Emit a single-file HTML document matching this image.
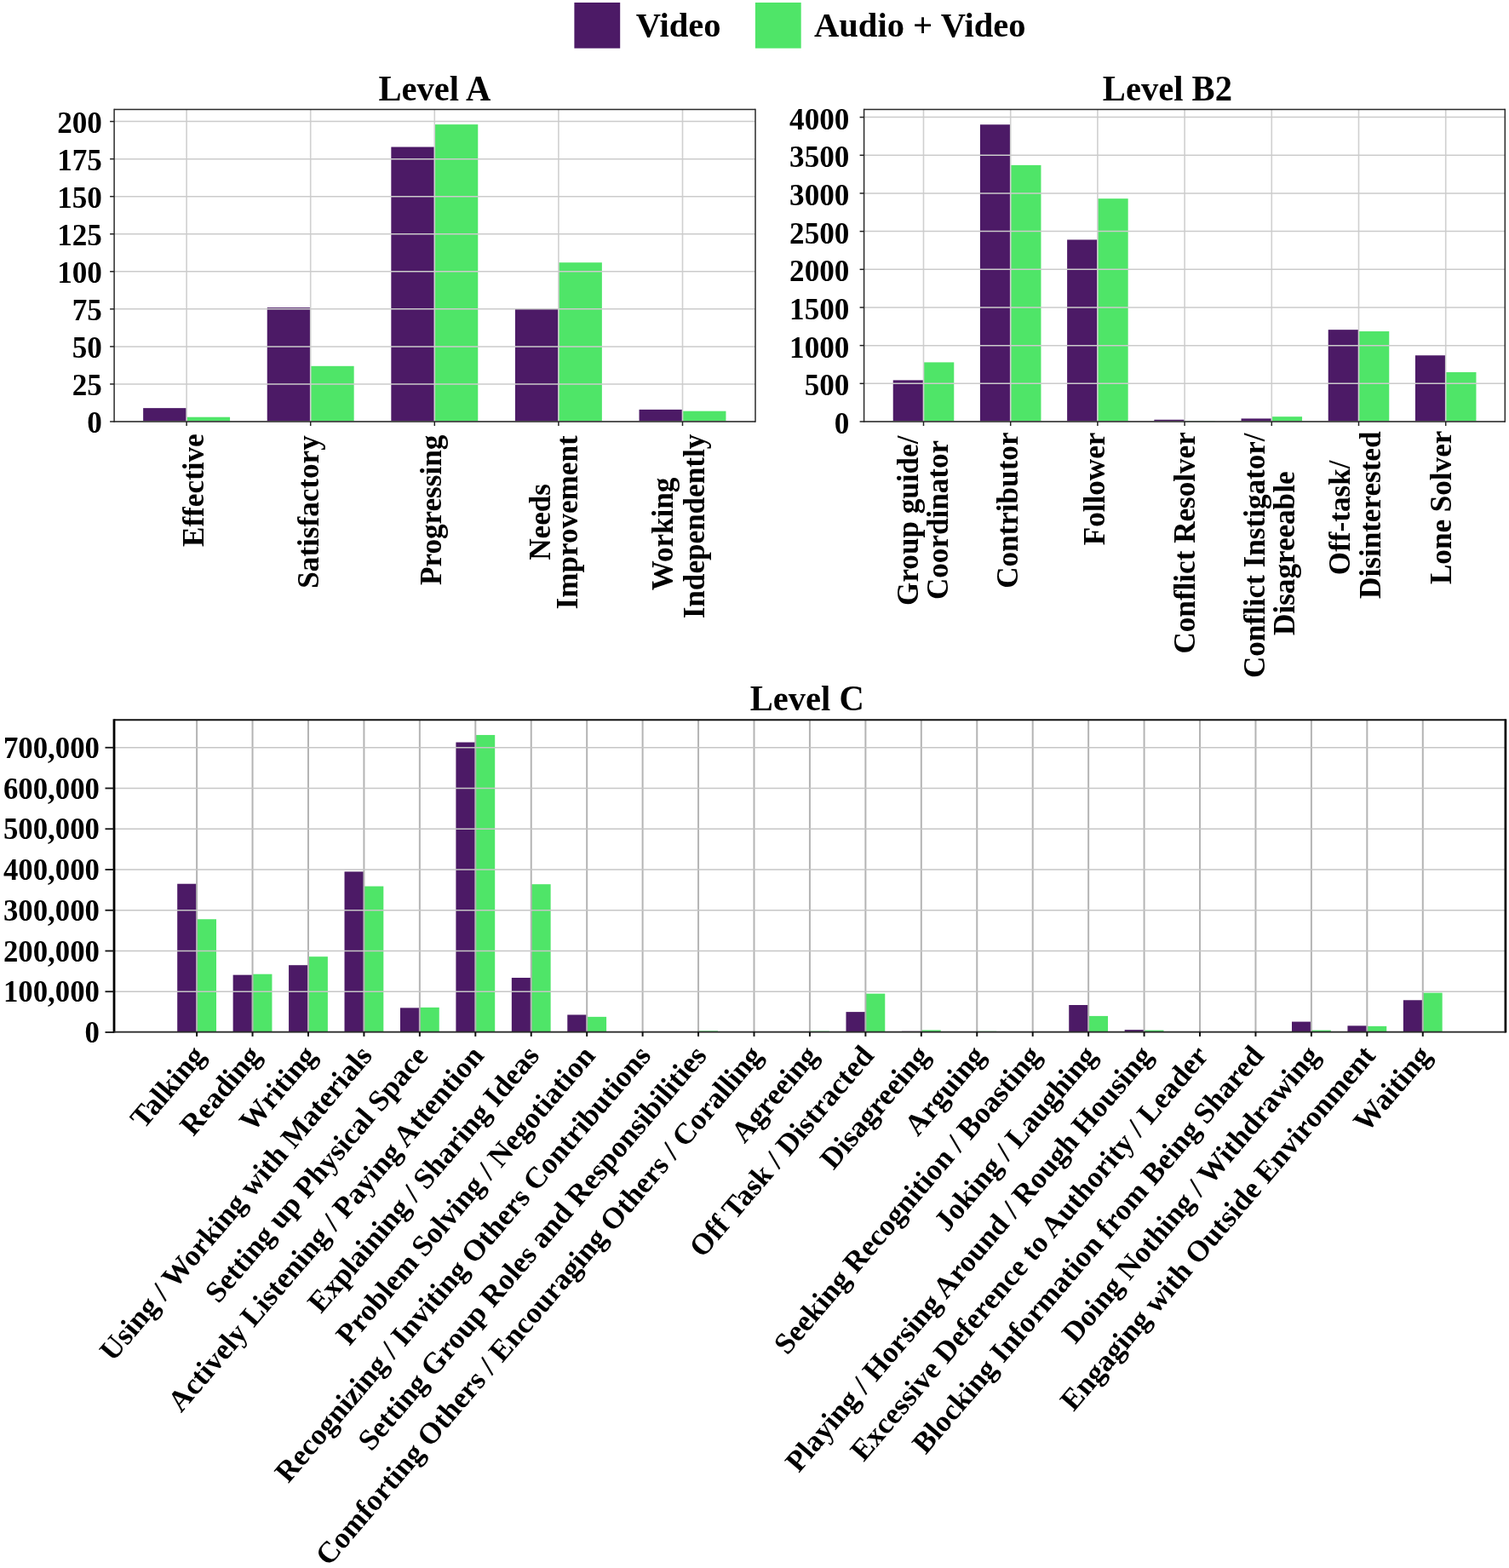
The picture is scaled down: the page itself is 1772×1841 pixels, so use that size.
<!DOCTYPE html>
<html lang="en">
<head>
<meta charset="utf-8">
<title>Level A, Level B2, Level C - Video vs Audio + Video</title>
<style>
html,body{margin:0;padding:0;background:#fff;}
body{width:1772px;height:1841px;overflow:hidden;}
svg{display:block;}
svg text{font-family:'Liberation Serif','Times New Roman',Times,serif;font-weight:bold;fill:#000;}
</style>
</head>
<body>
<svg width="1772" height="1841" viewBox="0 0 1772 1841">
<rect x="0" y="0" width="1772" height="1841" fill="#ffffff"/>
<rect x="674.4" y="3" width="53.8" height="53.7" fill="#4c1a66"/>
<rect x="886.9" y="3" width="53.8" height="53.7" fill="#4fe568"/>
<text font-size="40.6" transform="translate(746.67 43.3)">Video</text>
<text font-size="40.6" transform="translate(955.97 43.3)">Audio + Video</text>
<rect x="168.14" y="479.14" width="50.96" height="15.86" fill="#4c1a66"/>
<rect x="219.1" y="489.71" width="50.96" height="5.29" fill="#4fe568"/>
<rect x="313.74" y="361.09" width="50.96" height="133.91" fill="#4c1a66"/>
<rect x="364.7" y="429.81" width="50.96" height="65.19" fill="#4fe568"/>
<rect x="459.34" y="172.55" width="50.96" height="322.45" fill="#4c1a66"/>
<rect x="510.3" y="146.12" width="50.96" height="348.88" fill="#4fe568"/>
<rect x="604.94" y="362.85" width="50.96" height="132.15" fill="#4c1a66"/>
<rect x="655.9" y="308.23" width="50.96" height="186.77" fill="#4fe568"/>
<rect x="750.54" y="480.9" width="50.96" height="14.1" fill="#4c1a66"/>
<rect x="801.5" y="482.67" width="50.96" height="12.33" fill="#4fe568"/>
<line x1="219.1" y1="128.45" x2="219.1" y2="495" stroke="#d0d0d0" stroke-width="1.6"/>
<line x1="364.7" y1="128.45" x2="364.7" y2="495" stroke="#d0d0d0" stroke-width="1.6"/>
<line x1="510.3" y1="128.45" x2="510.3" y2="495" stroke="#d0d0d0" stroke-width="1.6"/>
<line x1="655.9" y1="128.45" x2="655.9" y2="495" stroke="#d0d0d0" stroke-width="1.6"/>
<line x1="801.5" y1="128.45" x2="801.5" y2="495" stroke="#d0d0d0" stroke-width="1.6"/>
<line x1="134.1" y1="495" x2="887" y2="495" stroke="#cbcbcb" stroke-width="1.5"/>
<line x1="134.1" y1="450.95" x2="887" y2="450.95" stroke="#cbcbcb" stroke-width="1.5"/>
<line x1="134.1" y1="406.9" x2="887" y2="406.9" stroke="#cbcbcb" stroke-width="1.5"/>
<line x1="134.1" y1="362.85" x2="887" y2="362.85" stroke="#cbcbcb" stroke-width="1.5"/>
<line x1="134.1" y1="318.8" x2="887" y2="318.8" stroke="#cbcbcb" stroke-width="1.5"/>
<line x1="134.1" y1="274.75" x2="887" y2="274.75" stroke="#cbcbcb" stroke-width="1.5"/>
<line x1="134.1" y1="230.7" x2="887" y2="230.7" stroke="#cbcbcb" stroke-width="1.5"/>
<line x1="134.1" y1="186.65" x2="887" y2="186.65" stroke="#cbcbcb" stroke-width="1.5"/>
<line x1="134.1" y1="142.6" x2="887" y2="142.6" stroke="#cbcbcb" stroke-width="1.5"/>
<line x1="134.1" y1="127.7" x2="134.1" y2="495.75" stroke="#2a2a2a" stroke-width="1.5"/>
<line x1="887" y1="127.7" x2="887" y2="495.75" stroke="#2a2a2a" stroke-width="1.5"/>
<line x1="134.1" y1="128.45" x2="887" y2="128.45" stroke="#2a2a2a" stroke-width="1.5"/>
<line x1="134.1" y1="495" x2="887" y2="495" stroke="#2a2a2a" stroke-width="1.5"/>
<line x1="219.1" y1="495" x2="219.1" y2="500" stroke="#222" stroke-width="1.5"/>
<line x1="364.7" y1="495" x2="364.7" y2="500" stroke="#222" stroke-width="1.5"/>
<line x1="510.3" y1="495" x2="510.3" y2="500" stroke="#222" stroke-width="1.5"/>
<line x1="655.9" y1="495" x2="655.9" y2="500" stroke="#222" stroke-width="1.5"/>
<line x1="801.5" y1="495" x2="801.5" y2="500" stroke="#222" stroke-width="1.5"/>
<line x1="129.1" y1="495" x2="134.1" y2="495" stroke="#222" stroke-width="1.5"/>
<text font-size="36.4" text-anchor="end" transform="translate(119.8 508.3) scale(0.965 1)">0</text>
<line x1="129.1" y1="450.95" x2="134.1" y2="450.95" stroke="#222" stroke-width="1.5"/>
<text font-size="36.4" text-anchor="end" transform="translate(119.8 464.25) scale(0.965 1)">25</text>
<line x1="129.1" y1="406.9" x2="134.1" y2="406.9" stroke="#222" stroke-width="1.5"/>
<text font-size="36.4" text-anchor="end" transform="translate(119.8 420.2) scale(0.965 1)">50</text>
<line x1="129.1" y1="362.85" x2="134.1" y2="362.85" stroke="#222" stroke-width="1.5"/>
<text font-size="36.4" text-anchor="end" transform="translate(119.8 376.15) scale(0.965 1)">75</text>
<line x1="129.1" y1="318.8" x2="134.1" y2="318.8" stroke="#222" stroke-width="1.5"/>
<text font-size="36.4" text-anchor="end" transform="translate(119.8 332.1) scale(0.965 1)">100</text>
<line x1="129.1" y1="274.75" x2="134.1" y2="274.75" stroke="#222" stroke-width="1.5"/>
<text font-size="36.4" text-anchor="end" transform="translate(119.8 288.05) scale(0.965 1)">125</text>
<line x1="129.1" y1="230.7" x2="134.1" y2="230.7" stroke="#222" stroke-width="1.5"/>
<text font-size="36.4" text-anchor="end" transform="translate(119.8 244) scale(0.965 1)">150</text>
<line x1="129.1" y1="186.65" x2="134.1" y2="186.65" stroke="#222" stroke-width="1.5"/>
<text font-size="36.4" text-anchor="end" transform="translate(119.8 199.95) scale(0.965 1)">175</text>
<line x1="129.1" y1="142.6" x2="134.1" y2="142.6" stroke="#222" stroke-width="1.5"/>
<text font-size="36.4" text-anchor="end" transform="translate(119.8 155.9) scale(0.965 1)">200</text>
<text font-size="41.4" text-anchor="middle" transform="translate(510.38 118) scale(0.98 1)">Level A</text>
<rect x="1048.73" y="446.39" width="35.77" height="48.61" fill="#4c1a66"/>
<rect x="1084.5" y="425.4" width="35.77" height="69.6" fill="#4fe568"/>
<rect x="1150.93" y="146.27" width="35.77" height="348.73" fill="#4c1a66"/>
<rect x="1186.7" y="193.89" width="35.77" height="301.11" fill="#4fe568"/>
<rect x="1253.13" y="281.45" width="35.77" height="213.55" fill="#4c1a66"/>
<rect x="1288.9" y="233.2" width="35.77" height="261.8" fill="#4fe568"/>
<rect x="1355.33" y="492.77" width="35.77" height="2.23" fill="#4c1a66"/>
<rect x="1391.1" y="494.11" width="35.77" height="0.89" fill="#4fe568"/>
<rect x="1457.53" y="491.43" width="35.77" height="3.57" fill="#4c1a66"/>
<rect x="1493.3" y="489.19" width="35.77" height="5.81" fill="#4fe568"/>
<rect x="1559.73" y="387.15" width="35.77" height="107.85" fill="#4c1a66"/>
<rect x="1595.5" y="389.03" width="35.77" height="105.97" fill="#4fe568"/>
<rect x="1661.93" y="417.27" width="35.77" height="77.73" fill="#4c1a66"/>
<rect x="1697.7" y="437.01" width="35.77" height="57.99" fill="#4fe568"/>
<line x1="1084.5" y1="128.45" x2="1084.5" y2="495" stroke="#d0d0d0" stroke-width="1.6"/>
<line x1="1186.7" y1="128.45" x2="1186.7" y2="495" stroke="#d0d0d0" stroke-width="1.6"/>
<line x1="1288.9" y1="128.45" x2="1288.9" y2="495" stroke="#d0d0d0" stroke-width="1.6"/>
<line x1="1391.1" y1="128.45" x2="1391.1" y2="495" stroke="#d0d0d0" stroke-width="1.6"/>
<line x1="1493.3" y1="128.45" x2="1493.3" y2="495" stroke="#d0d0d0" stroke-width="1.6"/>
<line x1="1595.5" y1="128.45" x2="1595.5" y2="495" stroke="#d0d0d0" stroke-width="1.6"/>
<line x1="1697.7" y1="128.45" x2="1697.7" y2="495" stroke="#d0d0d0" stroke-width="1.6"/>
<line x1="1014.6" y1="495" x2="1767.3" y2="495" stroke="#cbcbcb" stroke-width="1.5"/>
<line x1="1014.6" y1="450.32" x2="1767.3" y2="450.32" stroke="#cbcbcb" stroke-width="1.5"/>
<line x1="1014.6" y1="405.65" x2="1767.3" y2="405.65" stroke="#cbcbcb" stroke-width="1.5"/>
<line x1="1014.6" y1="360.98" x2="1767.3" y2="360.98" stroke="#cbcbcb" stroke-width="1.5"/>
<line x1="1014.6" y1="316.3" x2="1767.3" y2="316.3" stroke="#cbcbcb" stroke-width="1.5"/>
<line x1="1014.6" y1="271.62" x2="1767.3" y2="271.62" stroke="#cbcbcb" stroke-width="1.5"/>
<line x1="1014.6" y1="226.95" x2="1767.3" y2="226.95" stroke="#cbcbcb" stroke-width="1.5"/>
<line x1="1014.6" y1="182.27" x2="1767.3" y2="182.27" stroke="#cbcbcb" stroke-width="1.5"/>
<line x1="1014.6" y1="137.6" x2="1767.3" y2="137.6" stroke="#cbcbcb" stroke-width="1.5"/>
<line x1="1014.6" y1="127.7" x2="1014.6" y2="495.75" stroke="#2a2a2a" stroke-width="1.5"/>
<line x1="1767.3" y1="127.7" x2="1767.3" y2="495.75" stroke="#2a2a2a" stroke-width="1.5"/>
<line x1="1014.6" y1="128.45" x2="1767.3" y2="128.45" stroke="#2a2a2a" stroke-width="1.5"/>
<line x1="1014.6" y1="495" x2="1767.3" y2="495" stroke="#2a2a2a" stroke-width="1.5"/>
<line x1="1084.5" y1="495" x2="1084.5" y2="500" stroke="#222" stroke-width="1.5"/>
<line x1="1186.7" y1="495" x2="1186.7" y2="500" stroke="#222" stroke-width="1.5"/>
<line x1="1288.9" y1="495" x2="1288.9" y2="500" stroke="#222" stroke-width="1.5"/>
<line x1="1391.1" y1="495" x2="1391.1" y2="500" stroke="#222" stroke-width="1.5"/>
<line x1="1493.3" y1="495" x2="1493.3" y2="500" stroke="#222" stroke-width="1.5"/>
<line x1="1595.5" y1="495" x2="1595.5" y2="500" stroke="#222" stroke-width="1.5"/>
<line x1="1697.7" y1="495" x2="1697.7" y2="500" stroke="#222" stroke-width="1.5"/>
<line x1="1009.6" y1="495" x2="1014.6" y2="495" stroke="#222" stroke-width="1.5"/>
<text font-size="36.4" text-anchor="end" transform="translate(997.3 509.1) scale(0.965 1)">0</text>
<line x1="1009.6" y1="450.32" x2="1014.6" y2="450.32" stroke="#222" stroke-width="1.5"/>
<text font-size="36.4" text-anchor="end" transform="translate(997.3 464.43) scale(0.965 1)">500</text>
<line x1="1009.6" y1="405.65" x2="1014.6" y2="405.65" stroke="#222" stroke-width="1.5"/>
<text font-size="36.4" text-anchor="end" transform="translate(997.3 419.75) scale(0.965 1)">1000</text>
<line x1="1009.6" y1="360.98" x2="1014.6" y2="360.98" stroke="#222" stroke-width="1.5"/>
<text font-size="36.4" text-anchor="end" transform="translate(997.3 375.08) scale(0.965 1)">1500</text>
<line x1="1009.6" y1="316.3" x2="1014.6" y2="316.3" stroke="#222" stroke-width="1.5"/>
<text font-size="36.4" text-anchor="end" transform="translate(997.3 330.4) scale(0.965 1)">2000</text>
<line x1="1009.6" y1="271.62" x2="1014.6" y2="271.62" stroke="#222" stroke-width="1.5"/>
<text font-size="36.4" text-anchor="end" transform="translate(997.3 285.73) scale(0.965 1)">2500</text>
<line x1="1009.6" y1="226.95" x2="1014.6" y2="226.95" stroke="#222" stroke-width="1.5"/>
<text font-size="36.4" text-anchor="end" transform="translate(997.3 241.05) scale(0.965 1)">3000</text>
<line x1="1009.6" y1="182.27" x2="1014.6" y2="182.27" stroke="#222" stroke-width="1.5"/>
<text font-size="36.4" text-anchor="end" transform="translate(997.3 196.37) scale(0.965 1)">3500</text>
<line x1="1009.6" y1="137.6" x2="1014.6" y2="137.6" stroke="#222" stroke-width="1.5"/>
<text font-size="36.4" text-anchor="end" transform="translate(997.3 151.7) scale(0.965 1)">4000</text>
<text font-size="41.4" text-anchor="middle" transform="translate(1370.9 117.8) scale(0.98 1)">Level B2</text>
<rect x="208.2" y="1037.71" width="22.9" height="174.29" fill="#4c1a66"/>
<rect x="231.1" y="1079.26" width="22.9" height="132.74" fill="#4fe568"/>
<rect x="273.64" y="1144.67" width="22.9" height="67.33" fill="#4c1a66"/>
<rect x="296.54" y="1143.72" width="22.9" height="68.28" fill="#4fe568"/>
<rect x="339.08" y="1133.21" width="22.9" height="78.79" fill="#4c1a66"/>
<rect x="361.98" y="1123.18" width="22.9" height="88.82" fill="#4fe568"/>
<rect x="404.52" y="1023.39" width="22.9" height="188.61" fill="#4c1a66"/>
<rect x="427.42" y="1040.58" width="22.9" height="171.42" fill="#4fe568"/>
<rect x="469.96" y="1183.35" width="22.9" height="28.65" fill="#4c1a66"/>
<rect x="492.86" y="1182.87" width="22.9" height="29.13" fill="#4fe568"/>
<rect x="535.4" y="871.54" width="22.9" height="340.46" fill="#4c1a66"/>
<rect x="558.3" y="862.95" width="22.9" height="349.05" fill="#4fe568"/>
<rect x="600.84" y="1148.02" width="22.9" height="63.98" fill="#4c1a66"/>
<rect x="623.74" y="1038.19" width="22.9" height="173.81" fill="#4fe568"/>
<rect x="666.28" y="1191.47" width="22.9" height="20.53" fill="#4c1a66"/>
<rect x="689.18" y="1193.86" width="22.9" height="18.14" fill="#4fe568"/>
<rect x="731.72" y="1211.52" width="22.9" height="0.48" fill="#4c1a66"/>
<rect x="754.62" y="1211.62" width="22.9" height="0.38" fill="#4fe568"/>
<rect x="797.16" y="1211.86" width="22.9" height="0.14" fill="#4c1a66"/>
<rect x="820.06" y="1210.42" width="22.9" height="1.58" fill="#4fe568"/>
<rect x="862.6" y="1211.86" width="22.9" height="0.14" fill="#4c1a66"/>
<rect x="885.5" y="1211.62" width="22.9" height="0.38" fill="#4fe568"/>
<rect x="928.04" y="1210.95" width="22.9" height="1.05" fill="#4c1a66"/>
<rect x="950.94" y="1210.66" width="22.9" height="1.34" fill="#4fe568"/>
<rect x="993.48" y="1188.12" width="22.9" height="23.88" fill="#4c1a66"/>
<rect x="1016.38" y="1166.64" width="22.9" height="45.36" fill="#4fe568"/>
<rect x="1058.92" y="1210.81" width="22.9" height="1.19" fill="#4c1a66"/>
<rect x="1081.82" y="1209.47" width="22.9" height="2.53" fill="#4fe568"/>
<rect x="1124.36" y="1211.28" width="22.9" height="0.72" fill="#4c1a66"/>
<rect x="1147.26" y="1210.81" width="22.9" height="1.19" fill="#4fe568"/>
<rect x="1189.8" y="1211.86" width="22.9" height="0.14" fill="#4c1a66"/>
<rect x="1212.7" y="1211.86" width="22.9" height="0.14" fill="#4fe568"/>
<rect x="1255.24" y="1180.01" width="22.9" height="31.99" fill="#4c1a66"/>
<rect x="1278.14" y="1192.9" width="22.9" height="19.1" fill="#4fe568"/>
<rect x="1320.68" y="1209.13" width="22.9" height="2.87" fill="#4c1a66"/>
<rect x="1343.58" y="1209.61" width="22.9" height="2.39" fill="#4fe568"/>
<rect x="1386.12" y="1211.86" width="22.9" height="0.14" fill="#4c1a66"/>
<rect x="1409.02" y="1211.86" width="22.9" height="0.14" fill="#4fe568"/>
<rect x="1451.56" y="1211.86" width="22.9" height="0.14" fill="#4c1a66"/>
<rect x="1474.46" y="1211.28" width="22.9" height="0.72" fill="#4fe568"/>
<rect x="1517" y="1199.59" width="22.9" height="12.41" fill="#4c1a66"/>
<rect x="1539.9" y="1209.61" width="22.9" height="2.39" fill="#4fe568"/>
<rect x="1582.44" y="1204.36" width="22.9" height="7.64" fill="#4c1a66"/>
<rect x="1605.34" y="1204.84" width="22.9" height="7.16" fill="#4fe568"/>
<rect x="1647.88" y="1174.28" width="22.9" height="37.72" fill="#4c1a66"/>
<rect x="1670.78" y="1165.68" width="22.9" height="46.32" fill="#4fe568"/>
<line x1="231.1" y1="845.3" x2="231.1" y2="1211.6" stroke="#b4b4b4" stroke-width="2"/>
<line x1="296.54" y1="845.3" x2="296.54" y2="1211.6" stroke="#b4b4b4" stroke-width="2"/>
<line x1="361.98" y1="845.3" x2="361.98" y2="1211.6" stroke="#b4b4b4" stroke-width="2"/>
<line x1="427.42" y1="845.3" x2="427.42" y2="1211.6" stroke="#b4b4b4" stroke-width="2"/>
<line x1="492.86" y1="845.3" x2="492.86" y2="1211.6" stroke="#b4b4b4" stroke-width="2"/>
<line x1="558.3" y1="845.3" x2="558.3" y2="1211.6" stroke="#b4b4b4" stroke-width="2"/>
<line x1="623.74" y1="845.3" x2="623.74" y2="1211.6" stroke="#b4b4b4" stroke-width="2"/>
<line x1="689.18" y1="845.3" x2="689.18" y2="1211.6" stroke="#b4b4b4" stroke-width="2"/>
<line x1="754.62" y1="845.3" x2="754.62" y2="1211.6" stroke="#b4b4b4" stroke-width="2"/>
<line x1="820.06" y1="845.3" x2="820.06" y2="1211.6" stroke="#b4b4b4" stroke-width="2"/>
<line x1="885.5" y1="845.3" x2="885.5" y2="1211.6" stroke="#b4b4b4" stroke-width="2"/>
<line x1="950.94" y1="845.3" x2="950.94" y2="1211.6" stroke="#b4b4b4" stroke-width="2"/>
<line x1="1016.38" y1="845.3" x2="1016.38" y2="1211.6" stroke="#b4b4b4" stroke-width="2"/>
<line x1="1081.82" y1="845.3" x2="1081.82" y2="1211.6" stroke="#b4b4b4" stroke-width="2"/>
<line x1="1147.26" y1="845.3" x2="1147.26" y2="1211.6" stroke="#b4b4b4" stroke-width="2"/>
<line x1="1212.7" y1="845.3" x2="1212.7" y2="1211.6" stroke="#b4b4b4" stroke-width="2"/>
<line x1="1278.14" y1="845.3" x2="1278.14" y2="1211.6" stroke="#b4b4b4" stroke-width="2"/>
<line x1="1343.58" y1="845.3" x2="1343.58" y2="1211.6" stroke="#b4b4b4" stroke-width="2"/>
<line x1="1409.02" y1="845.3" x2="1409.02" y2="1211.6" stroke="#b4b4b4" stroke-width="2"/>
<line x1="1474.46" y1="845.3" x2="1474.46" y2="1211.6" stroke="#b4b4b4" stroke-width="2"/>
<line x1="1539.9" y1="845.3" x2="1539.9" y2="1211.6" stroke="#b4b4b4" stroke-width="2"/>
<line x1="1605.34" y1="845.3" x2="1605.34" y2="1211.6" stroke="#b4b4b4" stroke-width="2"/>
<line x1="1670.78" y1="845.3" x2="1670.78" y2="1211.6" stroke="#b4b4b4" stroke-width="2"/>
<line x1="134" y1="1212" x2="1767.9" y2="1212" stroke="#c6c6c6" stroke-width="1.4"/>
<line x1="134" y1="1164.25" x2="1767.9" y2="1164.25" stroke="#c6c6c6" stroke-width="1.4"/>
<line x1="134" y1="1116.5" x2="1767.9" y2="1116.5" stroke="#c6c6c6" stroke-width="1.4"/>
<line x1="134" y1="1068.75" x2="1767.9" y2="1068.75" stroke="#c6c6c6" stroke-width="1.4"/>
<line x1="134" y1="1021" x2="1767.9" y2="1021" stroke="#c6c6c6" stroke-width="1.4"/>
<line x1="134" y1="973.25" x2="1767.9" y2="973.25" stroke="#c6c6c6" stroke-width="1.4"/>
<line x1="134" y1="925.5" x2="1767.9" y2="925.5" stroke="#c6c6c6" stroke-width="1.4"/>
<line x1="134" y1="877.75" x2="1767.9" y2="877.75" stroke="#c6c6c6" stroke-width="1.4"/>
<line x1="134" y1="844.3" x2="134" y2="1212.55" stroke="#000" stroke-width="2.8"/>
<line x1="1767.9" y1="844.3" x2="1767.9" y2="1212.55" stroke="#000" stroke-width="2.7"/>
<line x1="134" y1="845.3" x2="1767.9" y2="845.3" stroke="#111" stroke-width="2"/>
<line x1="134" y1="1211.6" x2="1767.9" y2="1211.6" stroke="#2a2a2a" stroke-width="1.9"/>
<line x1="231.1" y1="1211.6" x2="231.1" y2="1216.9" stroke="#111" stroke-width="2"/>
<line x1="296.54" y1="1211.6" x2="296.54" y2="1216.9" stroke="#111" stroke-width="2"/>
<line x1="361.98" y1="1211.6" x2="361.98" y2="1216.9" stroke="#111" stroke-width="2"/>
<line x1="427.42" y1="1211.6" x2="427.42" y2="1216.9" stroke="#111" stroke-width="2"/>
<line x1="492.86" y1="1211.6" x2="492.86" y2="1216.9" stroke="#111" stroke-width="2"/>
<line x1="558.3" y1="1211.6" x2="558.3" y2="1216.9" stroke="#111" stroke-width="2"/>
<line x1="623.74" y1="1211.6" x2="623.74" y2="1216.9" stroke="#111" stroke-width="2"/>
<line x1="689.18" y1="1211.6" x2="689.18" y2="1216.9" stroke="#111" stroke-width="2"/>
<line x1="754.62" y1="1211.6" x2="754.62" y2="1216.9" stroke="#111" stroke-width="2"/>
<line x1="820.06" y1="1211.6" x2="820.06" y2="1216.9" stroke="#111" stroke-width="2"/>
<line x1="885.5" y1="1211.6" x2="885.5" y2="1216.9" stroke="#111" stroke-width="2"/>
<line x1="950.94" y1="1211.6" x2="950.94" y2="1216.9" stroke="#111" stroke-width="2"/>
<line x1="1016.38" y1="1211.6" x2="1016.38" y2="1216.9" stroke="#111" stroke-width="2"/>
<line x1="1081.82" y1="1211.6" x2="1081.82" y2="1216.9" stroke="#111" stroke-width="2"/>
<line x1="1147.26" y1="1211.6" x2="1147.26" y2="1216.9" stroke="#111" stroke-width="2"/>
<line x1="1212.7" y1="1211.6" x2="1212.7" y2="1216.9" stroke="#111" stroke-width="2"/>
<line x1="1278.14" y1="1211.6" x2="1278.14" y2="1216.9" stroke="#111" stroke-width="2"/>
<line x1="1343.58" y1="1211.6" x2="1343.58" y2="1216.9" stroke="#111" stroke-width="2"/>
<line x1="1409.02" y1="1211.6" x2="1409.02" y2="1216.9" stroke="#111" stroke-width="2"/>
<line x1="1474.46" y1="1211.6" x2="1474.46" y2="1216.9" stroke="#111" stroke-width="2"/>
<line x1="1539.9" y1="1211.6" x2="1539.9" y2="1216.9" stroke="#111" stroke-width="2"/>
<line x1="1605.34" y1="1211.6" x2="1605.34" y2="1216.9" stroke="#111" stroke-width="2"/>
<line x1="1670.78" y1="1211.6" x2="1670.78" y2="1216.9" stroke="#111" stroke-width="2"/>
<line x1="123.5" y1="1212" x2="134" y2="1212" stroke="#111" stroke-width="1.8"/>
<text font-size="36.4" text-anchor="end" transform="translate(116.9 1224) scale(0.955 1)">0</text>
<line x1="123.5" y1="1164.25" x2="134" y2="1164.25" stroke="#111" stroke-width="1.8"/>
<text font-size="36.4" text-anchor="end" transform="translate(116.9 1176.25) scale(0.955 1)">100,000</text>
<line x1="123.5" y1="1116.5" x2="134" y2="1116.5" stroke="#111" stroke-width="1.8"/>
<text font-size="36.4" text-anchor="end" transform="translate(116.9 1128.5) scale(0.955 1)">200,000</text>
<line x1="123.5" y1="1068.75" x2="134" y2="1068.75" stroke="#111" stroke-width="1.8"/>
<text font-size="36.4" text-anchor="end" transform="translate(116.9 1080.75) scale(0.955 1)">300,000</text>
<line x1="123.5" y1="1021" x2="134" y2="1021" stroke="#111" stroke-width="1.8"/>
<text font-size="36.4" text-anchor="end" transform="translate(116.9 1033) scale(0.955 1)">400,000</text>
<line x1="123.5" y1="973.25" x2="134" y2="973.25" stroke="#111" stroke-width="1.8"/>
<text font-size="36.4" text-anchor="end" transform="translate(116.9 985.25) scale(0.955 1)">500,000</text>
<line x1="123.5" y1="925.5" x2="134" y2="925.5" stroke="#111" stroke-width="1.8"/>
<text font-size="36.4" text-anchor="end" transform="translate(116.9 937.5) scale(0.955 1)">600,000</text>
<line x1="123.5" y1="877.75" x2="134" y2="877.75" stroke="#111" stroke-width="1.8"/>
<text font-size="36.4" text-anchor="end" transform="translate(116.9 889.75) scale(0.955 1)">700,000</text>
<text font-size="41.4" text-anchor="middle" transform="translate(947.67 834.1) scale(0.98 1)">Level C</text>
<text font-size="36.4" text-anchor="middle" transform="translate(238.7 575.73) rotate(-90) scale(0.965 1)">Effective</text>
<text font-size="36.4" text-anchor="middle" transform="translate(374.3 600.97) rotate(-90) scale(0.965 1)">Satisfactory</text>
<text font-size="36.4" text-anchor="middle" transform="translate(517.5 598.87) rotate(-90) scale(0.965 1)">Progressing</text>
<text font-size="36.4" text-anchor="middle" transform="translate(646 612.88) rotate(-90) scale(0.965 1)">Needs</text>
<text font-size="36.4" text-anchor="middle" transform="translate(678.4 613.4) rotate(-90) scale(0.965 1)">Improvement</text>
<text font-size="36.4" text-anchor="middle" transform="translate(790 626.95) rotate(-90) scale(0.965 1)">Working</text>
<text font-size="36.4" text-anchor="middle" transform="translate(826.8 618.05) rotate(-90) scale(0.965 1)">Independently</text>
<text font-size="36.4" text-anchor="middle" transform="translate(1077.5 611.25) rotate(-90) scale(0.965 1)">Group guide/</text>
<text font-size="36.4" text-anchor="middle" transform="translate(1113.1 610.45) rotate(-90) scale(0.965 1)">Coordinator</text>
<text font-size="36.4" text-anchor="middle" transform="translate(1194.7 599.2) rotate(-90) scale(0.965 1)">Contributor</text>
<text font-size="36.4" text-anchor="middle" transform="translate(1296.6 573.9) rotate(-90) scale(0.965 1)">Follower</text>
<text font-size="36.4" text-anchor="middle" transform="translate(1402.6 637.4) rotate(-90) scale(0.965 1)">Conflict Resolver</text>
<text font-size="36.4" text-anchor="middle" transform="translate(1485 652.25) rotate(-90) scale(0.965 1)">Conflict Instigator/</text>
<text font-size="36.4" text-anchor="middle" transform="translate(1520.3 649.73) rotate(-90) scale(0.965 1)">Disagreeable</text>
<text font-size="36.4" text-anchor="middle" transform="translate(1585.2 607.85) rotate(-90) scale(0.965 1)">Off-task/</text>
<text font-size="36.4" text-anchor="middle" transform="translate(1621.2 604.72) rotate(-90) scale(0.965 1)">Disinterested</text>
<text font-size="36.4" text-anchor="middle" transform="translate(1703.7 595.88) rotate(-90) scale(0.965 1)">Lone Solver</text>
<text font-size="35.0" text-anchor="end" transform="translate(242.3 1240.4) rotate(-49.6)">Talking</text>
<text font-size="35.0" text-anchor="end" transform="translate(307.74 1240.4) rotate(-49.6)">Reading</text>
<text font-size="35.0" text-anchor="end" transform="translate(373.18 1240.4) rotate(-49.6)">Writing</text>
<text font-size="35.0" text-anchor="end" transform="translate(438.62 1240.4) rotate(-49.6)">Using / Working with Materials</text>
<text font-size="35.0" text-anchor="end" transform="translate(504.06 1240.4) rotate(-49.6)">Setting up Physical Space</text>
<text font-size="35.0" text-anchor="end" transform="translate(569.5 1240.4) rotate(-49.6)">Actively Listening / Paying Attention</text>
<text font-size="35.0" text-anchor="end" transform="translate(634.94 1240.4) rotate(-49.6)">Explaining / Sharing Ideas</text>
<text font-size="35.0" text-anchor="end" transform="translate(700.38 1240.4) rotate(-49.6)">Problem Solving / Negotiation</text>
<text font-size="35.0" text-anchor="end" transform="translate(765.82 1240.4) rotate(-49.6)">Recognizing / Inviting Others Contributions</text>
<text font-size="35.0" text-anchor="end" transform="translate(831.26 1240.4) rotate(-49.6)">Setting Group Roles and Responsibilities</text>
<text font-size="35.0" text-anchor="end" transform="translate(896.7 1240.4) rotate(-49.6)">Comforting Others / Encouraging Others / Coralling</text>
<text font-size="35.0" text-anchor="end" transform="translate(962.14 1240.4) rotate(-49.6)">Agreeing</text>
<text font-size="35.0" text-anchor="end" transform="translate(1027.58 1240.4) rotate(-49.6)">Off Task / Distracted</text>
<text font-size="35.0" text-anchor="end" transform="translate(1093.02 1240.4) rotate(-49.6)">Disagreeing</text>
<text font-size="35.0" text-anchor="end" transform="translate(1158.46 1240.4) rotate(-49.6)">Arguing</text>
<text font-size="35.0" text-anchor="end" transform="translate(1223.9 1240.4) rotate(-49.6)">Seeking Recognition / Boasting</text>
<text font-size="35.0" text-anchor="end" transform="translate(1289.34 1240.4) rotate(-49.6)">Joking / Laughing</text>
<text font-size="35.0" text-anchor="end" transform="translate(1354.78 1240.4) rotate(-49.6)">Playing / Horsing Around / Rough Housing</text>
<text font-size="35.0" text-anchor="end" transform="translate(1420.22 1240.4) rotate(-49.6)">Excessive Deference to Authority / Leader</text>
<text font-size="35.0" text-anchor="end" transform="translate(1485.66 1240.4) rotate(-49.6)">Blocking Information from Being Shared</text>
<text font-size="35.0" text-anchor="end" transform="translate(1551.1 1240.4) rotate(-49.6)">Doing Nothing / Withdrawing</text>
<text font-size="35.0" text-anchor="end" transform="translate(1616.54 1240.4) rotate(-49.6)">Engaging with Outside Environment</text>
<text font-size="35.0" text-anchor="end" transform="translate(1681.98 1240.4) rotate(-49.6)">Waiting</text>
</svg>
</body>
</html>
